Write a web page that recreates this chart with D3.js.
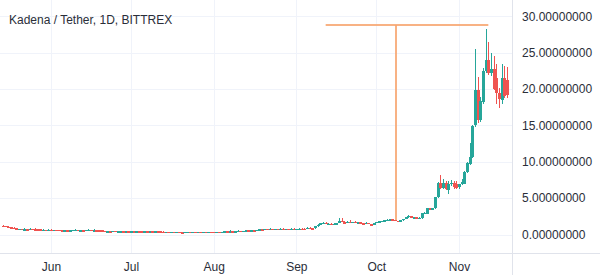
<!DOCTYPE html>
<html>
<head>
<meta charset="utf-8">
<script src="https://cdn.jsdelivr.net/npm/d3@7"></script>
<style>
  body { margin: 0; background: #ffffff; }
  svg { display: block; font-family: "Liberation Sans", Arial, sans-serif; }
</style>
</head>
<body>
<div id="chart"></div>
<script>
// KDA / USDT daily candles, 14 May - 19 Nov 2021
const startDay = "2021-05-14";

// one value per day, month by month
const opens = [
  // May
  1.20, 1.19, 1.07, 1.00, 0.93, 0.86, 0.76, 0.78, 0.70, 0.74, 0.66, 0.76, 0.74, 0.72, 0.69, 0.64, 0.66, 0.64,
  // Jun
  0.67, 0.64, 0.65, 0.63, 0.60, 0.56, 0.60, 0.58, 0.59, 0.62, 0.64, 0.60, 0.61, 0.58, 0.62, 0.63, 0.59, 0.61, 0.58, 0.55,
  0.49, 0.41, 0.48, 0.47, 0.49, 0.46, 0.47, 0.48, 0.46, 0.48,
  // Jul
  0.47, 0.48, 0.46, 0.47, 0.46, 0.45, 0.46, 0.44, 0.45, 0.43, 0.44, 0.43, 0.41, 0.38, 0.39, 0.36, 0.37, 0.35, 0.36, 0.34,
  0.32, 0.35, 0.36, 0.34, 0.36, 0.35, 0.37, 0.35, 0.36, 0.35, 0.37,
  // Aug
  0.36, 0.35, 0.36, 0.34, 0.38, 0.42, 0.40, 0.46, 0.43, 0.47, 0.51, 0.48, 0.50, 0.55, 0.53, 0.60, 0.58, 0.64, 0.70, 0.68,
  0.77, 0.74, 0.80, 0.76, 0.79, 0.75, 0.80, 0.77, 0.79, 0.76, 0.81,
  // Sep
  0.78, 0.80, 0.82, 0.80, 0.78, 0.95, 0.86, 0.84, 1.10, 1.35, 1.55, 1.62, 1.45, 1.50, 1.42, 1.50, 1.56, 1.86, 1.70, 1.65,
  1.72, 1.65, 1.72, 1.66, 1.70, 1.58, 1.55, 1.60, 1.42, 1.38,
  // Oct
  1.55, 1.72, 1.82, 1.88, 1.94, 2.04, 2.10, 2.00, 1.86, 1.80, 1.94, 2.14, 2.34, 2.55, 2.32, 2.36, 2.24, 2.22, 2.90, 2.84,
  3.60, 3.40, 3.60, 5.10, 7.10, 6.40, 7.10, 6.10, 6.90, 7.10, 6.90,
  // Nov
  6.50, 6.90, 7.00, 8.60, 9.70, 10.70, 15.00, 19.90, 15.80, 18.20, 22.50, 24.00, 22.20, 22.70, 21.50, 19.50, 18.50, 21.50, 21.30
];
const highs = [
  1.30, 1.22, 1.10, 1.03, 0.97, 0.90, 0.82, 0.80, 0.85, 0.76, 0.86, 0.80, 0.86, 0.76, 0.71, 0.69, 0.68, 0.70,
  0.69, 0.68, 0.68, 0.65, 0.62, 0.62, 0.62, 0.61, 0.64, 0.78, 0.66, 0.63, 0.62, 0.64, 0.75, 0.65, 0.70, 0.63, 0.60, 0.57,
  0.50, 0.50, 0.52, 0.50, 0.50, 0.49, 0.49, 0.50, 0.49, 0.50,
  0.49, 0.49, 0.48, 0.48, 0.47, 0.47, 0.47, 0.46, 0.46, 0.45, 0.45, 0.44, 0.42, 0.40, 0.40, 0.38, 0.38, 0.37, 0.37, 0.35,
  0.36, 0.37, 0.37, 0.37, 0.37, 0.38, 0.38, 0.37, 0.37, 0.38, 0.38,
  0.38, 0.37, 0.37, 0.40, 0.50, 0.45, 0.55, 0.50, 0.48, 0.55, 0.54, 0.52, 0.60, 0.58, 0.64, 0.66, 0.68, 0.75, 0.78, 0.80,
  0.82, 0.84, 0.82, 0.82, 0.81, 0.86, 0.83, 0.81, 0.80, 0.84, 0.86,
  0.82, 0.84, 0.87, 0.83, 0.97, 0.98, 0.90, 1.12, 1.38, 1.58, 1.66, 1.65, 1.55, 1.54, 1.55, 1.60, 2.30, 2.20, 1.80, 1.80,
  1.95, 1.78, 1.90, 1.76, 1.74, 1.64, 1.66, 1.62, 1.48, 1.58,
  1.78, 1.86, 1.92, 1.98, 2.08, 2.14, 2.14, 2.04, 1.92, 1.98, 2.18, 2.38, 2.70, 2.60, 2.42, 2.40, 2.34, 2.95, 3.10, 3.70,
  3.70, 3.70, 5.20, 7.20, 8.20, 7.60, 7.40, 7.40, 7.50, 7.30, 7.30,
  7.00, 7.60, 8.70, 9.90, 12.60, 15.00, 25.50, 21.60, 18.90, 22.90, 28.20, 26.50, 24.90, 24.50, 23.50, 20.20, 23.50, 23.10, 23.00
];
const lows = [
  1.12, 1.04, 0.98, 0.90, 0.84, 0.70, 0.72, 0.68, 0.68, 0.64, 0.65, 0.71, 0.70, 0.67, 0.62, 0.61, 0.62, 0.62,
  0.62, 0.62, 0.62, 0.58, 0.53, 0.55, 0.56, 0.54, 0.57, 0.60, 0.58, 0.57, 0.56, 0.57, 0.60, 0.57, 0.57, 0.56, 0.53, 0.46,
  0.38, 0.40, 0.45, 0.45, 0.44, 0.44, 0.45, 0.45, 0.45, 0.45,
  0.45, 0.45, 0.45, 0.45, 0.44, 0.44, 0.43, 0.43, 0.42, 0.42, 0.42, 0.40, 0.37, 0.36, 0.35, 0.34, 0.34, 0.33, 0.33, 0.31,
  0.31, 0.33, 0.33, 0.33, 0.33, 0.34, 0.34, 0.33, 0.34, 0.34, 0.34,
  0.34, 0.33, 0.33, 0.33, 0.37, 0.38, 0.39, 0.41, 0.42, 0.45, 0.46, 0.46, 0.49, 0.51, 0.52, 0.56, 0.57, 0.62, 0.66, 0.67,
  0.72, 0.72, 0.74, 0.73, 0.74, 0.74, 0.75, 0.74, 0.74, 0.75, 0.77,
  0.76, 0.77, 0.79, 0.76, 0.77, 0.84, 0.78, 0.82, 1.08, 1.32, 1.50, 1.42, 1.40, 1.38, 1.40, 1.46, 1.54, 1.66, 1.60, 1.62,
  1.62, 1.60, 1.62, 1.60, 1.55, 1.50, 1.52, 1.38, 1.34, 1.36,
  1.52, 1.68, 1.76, 1.80, 1.90, 1.98, 1.96, 1.82, 1.76, 1.78, 1.92, 2.10, 2.30, 2.28, 2.25, 2.20, 2.18, 2.18, 2.78, 2.80,
  3.30, 3.35, 3.55, 5.00, 6.30, 6.30, 6.10, 5.50, 6.70, 6.30, 6.20,
  6.30, 6.80, 6.90, 8.40, 9.50, 10.50, 14.80, 15.30, 15.40, 17.90, 22.20, 21.90, 21.80, 19.80, 18.00, 17.40, 18.00, 18.70, 18.80
];
const closes = [
  1.19, 1.07, 1.00, 0.93, 0.86, 0.76, 0.78, 0.70, 0.74, 0.66, 0.76, 0.74, 0.72, 0.69, 0.64, 0.66, 0.64, 0.67,
  0.64, 0.65, 0.63, 0.60, 0.56, 0.60, 0.58, 0.59, 0.62, 0.64, 0.60, 0.61, 0.58, 0.62, 0.63, 0.59, 0.61, 0.58, 0.55, 0.49,
  0.41, 0.48, 0.47, 0.49, 0.46, 0.47, 0.48, 0.46, 0.48, 0.47,
  0.48, 0.46, 0.47, 0.46, 0.45, 0.46, 0.44, 0.45, 0.43, 0.44, 0.43, 0.41, 0.38, 0.39, 0.36, 0.37, 0.35, 0.36, 0.34, 0.32,
  0.35, 0.36, 0.34, 0.36, 0.35, 0.37, 0.35, 0.36, 0.35, 0.37, 0.36,
  0.35, 0.36, 0.34, 0.38, 0.42, 0.40, 0.46, 0.43, 0.47, 0.51, 0.48, 0.50, 0.55, 0.53, 0.60, 0.58, 0.64, 0.70, 0.68, 0.77,
  0.74, 0.80, 0.76, 0.79, 0.75, 0.80, 0.77, 0.79, 0.76, 0.81, 0.78,
  0.80, 0.82, 0.80, 0.78, 0.95, 0.86, 0.84, 1.10, 1.35, 1.55, 1.62, 1.45, 1.50, 1.42, 1.50, 1.56, 1.86, 1.70, 1.65, 1.72,
  1.65, 1.72, 1.66, 1.70, 1.58, 1.55, 1.60, 1.42, 1.38, 1.55,
  1.72, 1.82, 1.88, 1.94, 2.04, 2.10, 2.00, 1.86, 1.80, 1.94, 2.14, 2.34, 2.55, 2.32, 2.36, 2.24, 2.30, 2.90, 2.96, 3.60,
  3.40, 3.60, 5.10, 7.10, 6.40, 7.10, 6.30, 6.90, 7.10, 6.50, 6.40,
  6.90, 7.20, 8.60, 9.80, 10.70, 14.90, 19.90, 15.70, 18.30, 22.50, 24.00, 22.20, 22.70, 20.00, 19.40, 18.60, 21.50, 19.00, 19.20
];

// axis labels
const priceTicks = [0, 5, 10, 15, 20, 25, 30];
const monthTicks = ["2021-06-01", "2021-07-01", "2021-08-01", "2021-09-01", "2021-10-01", "2021-11-01"];

// the orange drawing on the chart (horizontal + vertical segment)
const drawH = { from: "2021-09-12", to: "2021-11-12", value: 28.8 };
const drawV = { day: "2021-10-08", top: 28.8, bottom: 2.0 };

const width = 600, height = 275;
const plotRight = 512, plotBottom = 253;
const upColor = "#26a69a", downColor = "#ef5350";
const gridColor = "#f0f3fa", borderColor = "#e0e3eb", textColor = "#2a2e39";

const parse = d3.utcParse("%Y-%m-%d");
const days = d3.utcDay.range(parse(startDay), d3.utcDay.offset(parse(startDay), closes.length));
const candles = days.map((d, i) => ({ date: d, o: opens[i], h: highs[i], l: lows[i], c: closes[i] }));

const x = d3.scaleUtc()
  .domain([parse("2021-06-01"), parse("2021-11-01")])
  .range([51, 459]);
const y = d3.scaleLinear()
  .domain([0, 30])
  .range([234.5, 16.3]);

const svg = d3.select("#chart").append("svg")
  .attr("width", width)
  .attr("height", height);

// grid
const grid = svg.append("g").attr("shape-rendering", "crispEdges");
grid.selectAll(".hgrid").data(priceTicks).join("line")
  .attr("x1", 0).attr("x2", plotRight)
  .attr("y1", d => Math.round(y(d)) + 0.5).attr("y2", d => Math.round(y(d)) + 0.5)
  .attr("stroke", gridColor);
grid.selectAll(".vgrid").data(monthTicks.map(parse)).join("line")
  .attr("x1", d => Math.round(x(d)) + 0.5).attr("x2", d => Math.round(x(d)) + 0.5)
  .attr("y1", 0).attr("y2", plotBottom)
  .attr("stroke", gridColor);

// candles
svg.append("clipPath").attr("id", "plot")
  .append("rect").attr("width", plotRight).attr("height", plotBottom);
const plot = svg.append("g").attr("clip-path", "url(#plot)");

const candle = plot.selectAll(".candle").data(candles).join("g")
  .attr("shape-rendering", "crispEdges")
  .attr("fill", d => d.c >= d.o ? upColor : downColor)
  .attr("stroke", d => d.c >= d.o ? upColor : downColor);

candle.append("line")
  .attr("x1", d => Math.round(x(d.date)) + 0.5)
  .attr("x2", d => Math.round(x(d.date)) + 0.5)
  .attr("y1", d => y(d.h))
  .attr("y2", d => y(d.l));

candle.append("rect")
  .attr("stroke", "none")
  .attr("x", d => Math.round(x(d.date)) - 1)
  .attr("width", 2.6)
  .attr("y", d => y(Math.max(d.o, d.c)))
  .attr("height", d => Math.max(1.5, Math.abs(y(d.o) - y(d.c))));

// orange drawing
const drawing = plot.append("g")
  .attr("stroke", "#f7a56f")
  .attr("stroke-width", 2)
  .attr("stroke-opacity", 0.85);
drawing.append("line")
  .attr("x1", x(parse(drawH.from))).attr("x2", x(parse(drawH.to)))
  .attr("y1", y(drawH.value)).attr("y2", y(drawH.value));
drawing.append("line")
  .attr("x1", x(parse(drawV.day)) + 1).attr("x2", x(parse(drawV.day)) + 1)
  .attr("y1", y(drawV.top)).attr("y2", y(drawV.bottom));

// price scale on the right
const yAxis = svg.append("g")
  .attr("transform", `translate(${plotRight},0)`)
  .call(d3.axisRight(y).tickValues(priceTicks).tickFormat(d => d.toFixed(8)).tickSize(0).tickPadding(10));
yAxis.select(".domain").remove();
yAxis.selectAll("text").attr("fill", textColor).attr("font-size", 12)
  .attr("font-family", "Liberation Sans, Arial, sans-serif");

// time scale at the bottom
const xAxis = svg.append("g")
  .attr("transform", `translate(0,${plotBottom})`)
  .call(d3.axisBottom(x).tickValues(monthTicks.map(parse)).tickFormat(d3.utcFormat("%b")).tickSize(0).tickPadding(9));
xAxis.select(".domain").remove();
xAxis.selectAll("text").attr("fill", textColor).attr("font-size", 12)
  .attr("font-family", "Liberation Sans, Arial, sans-serif");

// scale borders
const borders = svg.append("g").attr("stroke", borderColor).attr("shape-rendering", "crispEdges");
borders.append("line").attr("x1", plotRight + 0.5).attr("x2", plotRight + 0.5).attr("y1", 0).attr("y2", height);
borders.append("line").attr("x1", 0).attr("x2", width).attr("y1", plotBottom + 0.5).attr("y2", plotBottom + 0.5);

// title
svg.append("text")
  .attr("x", 9)
  .attr("y", 24)
  .attr("fill", textColor)
  .attr("font-size", 12)
  .text("Kadena / Tether, 1D, BITTREX");
</script>
</body>
</html>
